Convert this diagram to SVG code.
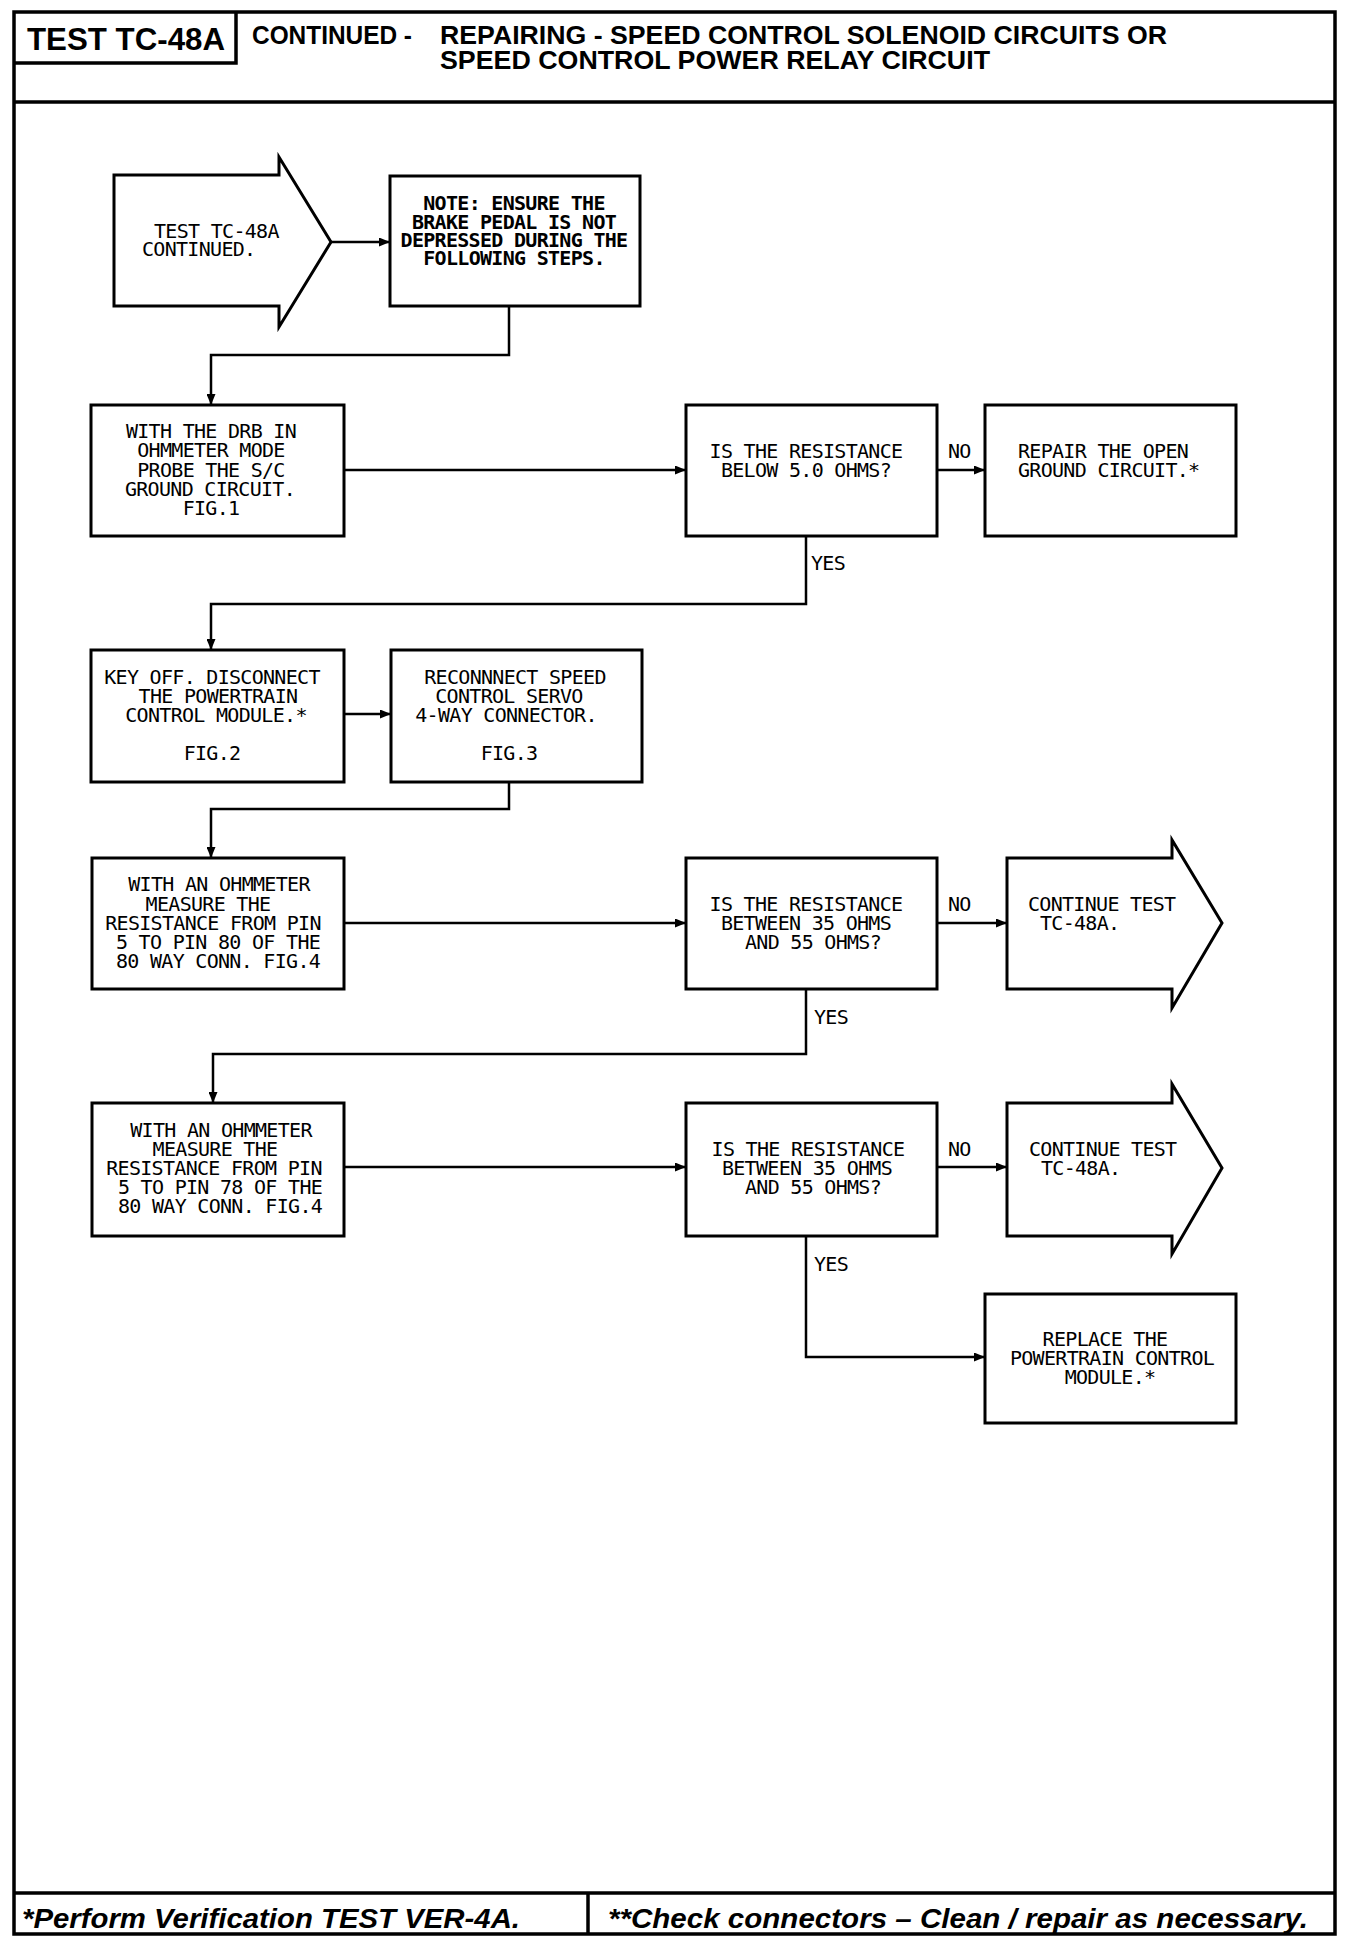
<svg xmlns="http://www.w3.org/2000/svg" width="1360" height="1952" viewBox="0 0 1360 1952">
<style>
.frame{fill:none;stroke:#000;stroke-width:3.5}
.box{fill:#fff;stroke:#000;stroke-width:3}
.conn{fill:none;stroke:#000;stroke-width:2.5}
.t{font-family:"DejaVu Sans Mono",monospace;font-size:20px;letter-spacing:-0.7px;fill:#000}
.m{text-anchor:middle}
.b{font-weight:bold}
.h{font-family:"Liberation Sans",Arial,sans-serif;font-weight:bold;fill:#000}
.f{font-family:"Liberation Sans",Arial,sans-serif;font-weight:bold;font-style:italic;font-size:28px;fill:#000}
</style>
<defs>
<marker id="ah" markerUnits="userSpaceOnUse" markerWidth="11" markerHeight="9" refX="11" refY="4.5" orient="auto">
<path d="M0,0 L11,4.5 L0,9 z" fill="#000"/>
</marker>
</defs>
<rect x="0" y="0" width="1360" height="1952" fill="#fff"/>
<g id="frame">
<rect class="frame" x="14" y="12" width="1321" height="1922"/>
<path class="frame" d="M236,12 V63 H14"/>
<line class="frame" x1="14" y1="102" x2="1335" y2="102"/>
<line class="frame" x1="14" y1="1893" x2="1335" y2="1893"/>
<line class="frame" x1="588" y1="1893" x2="588" y2="1934"/>
<text class="h" x="27" y="50" font-size="32" textLength="198" lengthAdjust="spacingAndGlyphs">TEST TC-48A</text>
<text class="h" x="252" y="44" font-size="25" textLength="160" lengthAdjust="spacingAndGlyphs">CONTINUED -</text>
<text class="h" x="440" y="44" font-size="25" textLength="727" lengthAdjust="spacingAndGlyphs">REPAIRING - SPEED CONTROL SOLENOID CIRCUITS OR</text>
<text class="h" x="440" y="69" font-size="25" textLength="550" lengthAdjust="spacingAndGlyphs">SPEED CONTROL POWER RELAY CIRCUIT</text>
<text class="f" x="22" y="1928" textLength="498" lengthAdjust="spacingAndGlyphs">*Perform Verification TEST VER-4A.</text>
<text class="f" x="608" y="1928" textLength="700" lengthAdjust="spacingAndGlyphs">**Check connectors – Clean / repair as necessary.</text>
</g>
<g id="connectors">
<line class="conn" x1="331" y1="242" x2="390" y2="242" marker-end="url(#ah)"/>
<path class="conn" d="M509,306 V355 H211 V405" marker-end="url(#ah)"/>
<line class="conn" x1="344" y1="470" x2="686" y2="470" marker-end="url(#ah)"/>
<line class="conn" x1="937" y1="470" x2="985" y2="470" marker-end="url(#ah)"/>
<path class="conn" d="M806,536 V604 H211 V650" marker-end="url(#ah)"/>
<line class="conn" x1="344" y1="714" x2="391" y2="714" marker-end="url(#ah)"/>
<path class="conn" d="M509,782 V809 H211 V858" marker-end="url(#ah)"/>
<line class="conn" x1="344" y1="923" x2="686" y2="923" marker-end="url(#ah)"/>
<line class="conn" x1="937" y1="923" x2="1007" y2="923" marker-end="url(#ah)"/>
<path class="conn" d="M806,989 V1054 H213 V1103" marker-end="url(#ah)"/>
<line class="conn" x1="344" y1="1167" x2="686" y2="1167" marker-end="url(#ah)"/>
<line class="conn" x1="937" y1="1167" x2="1007" y2="1167" marker-end="url(#ah)"/>
<path class="conn" d="M806,1236 V1357 H985" marker-end="url(#ah)"/>
<text class="t" x="948" y="458">NO</text>
<text class="t" x="811" y="570">YES</text>
<text class="t" x="948" y="911">NO</text>
<text class="t" x="814" y="1024">YES</text>
<text class="t" x="948" y="1156">NO</text>
<text class="t" x="814" y="1271">YES</text>
</g>
<g id="start">
<polygon class="box" points="114,175 279,175 279,157 331,242 279,327 279,306 114,306"/>
<text class="t" x="154" y="238">TEST TC-48A</text>
<text class="t" x="142" y="256">CONTINUED.</text>
</g>
<g id="note">
<rect class="box" x="390" y="176" width="250" height="130"/>
<text class="t m b" x="514" y="210">NOTE: ENSURE THE</text>
<text class="t m b" x="514" y="229">BRAKE PEDAL IS NOT</text>
<text class="t m b" x="514" y="247">DEPRESSED DURING THE</text>
<text class="t m b" x="514" y="265">FOLLOWING STEPS.</text>
</g>
<g id="probe-ground">
<rect class="box" x="91" y="405" width="253" height="131"/>
<text class="t m" x="211" y="438">WITH THE DRB IN</text>
<text class="t m" x="211" y="457">OHMMETER MODE</text>
<text class="t m" x="211" y="477">PROBE THE S/C</text>
<text class="t m" x="210" y="496">GROUND CIRCUIT.</text>
<text class="t m" x="211" y="515">FIG.1</text>
</g>
<g id="decision-1">
<rect class="box" x="686" y="405" width="251" height="131"/>
<text class="t m" x="806" y="458">IS THE RESISTANCE</text>
<text class="t m" x="806" y="477">BELOW 5.0 OHMS?</text>
</g>
<g id="repair-ground">
<rect class="box" x="985" y="405" width="251" height="131"/>
<text class="t" x="1018" y="458">REPAIR THE OPEN</text>
<text class="t" x="1018" y="477">GROUND CIRCUIT.*</text>
</g>
<g id="key-off">
<rect class="box" x="91" y="650" width="253" height="132"/>
<text class="t m" x="212" y="684">KEY OFF. DISCONNECT</text>
<text class="t m" x="218" y="703">THE POWERTRAIN</text>
<text class="t m" x="216" y="722">CONTROL MODULE.*</text>
<text class="t m" x="212" y="760">FIG.2</text>
</g>
<g id="reconnect">
<rect class="box" x="391" y="650" width="251" height="132"/>
<text class="t m" x="515" y="684">RECONNNECT SPEED</text>
<text class="t m" x="509" y="703">CONTROL SERVO</text>
<text class="t m" x="506" y="722">4-WAY CONNECTOR.</text>
<text class="t m" x="509" y="760">FIG.3</text>
</g>
<g id="measure-80">
<rect class="box" x="92" y="858" width="252" height="131"/>
<text class="t m" x="219" y="891">WITH AN OHMMETER</text>
<text class="t m" x="208" y="911">MEASURE THE</text>
<text class="t m" x="213" y="930">RESISTANCE FROM PIN</text>
<text class="t m" x="218" y="949">5 TO PIN 80 OF THE</text>
<text class="t m" x="218" y="968">80 WAY CONN. FIG.4</text>
</g>
<g id="decision-2">
<rect class="box" x="686" y="858" width="251" height="131"/>
<text class="t m" x="806" y="911">IS THE RESISTANCE</text>
<text class="t m" x="806" y="930">BETWEEN 35 OHMS</text>
<text class="t m" x="813" y="949">AND 55 OHMS?</text>
</g>
<g id="continue-1">
<polygon class="box" points="1007,858 1172,858 1172,840 1222,923 1172,1008 1172,989 1007,989"/>
<text class="t" x="1028" y="911">CONTINUE TEST</text>
<text class="t" x="1040" y="930">TC-48A.</text>
</g>
<g id="measure-78">
<rect class="box" x="92" y="1103" width="252" height="133"/>
<text class="t m" x="221" y="1137">WITH AN OHMMETER</text>
<text class="t m" x="215" y="1156">MEASURE THE</text>
<text class="t m" x="214" y="1175">RESISTANCE FROM PIN</text>
<text class="t m" x="220" y="1194">5 TO PIN 78 OF THE</text>
<text class="t m" x="220" y="1213">80 WAY CONN. FIG.4</text>
</g>
<g id="decision-3">
<rect class="box" x="686" y="1103" width="251" height="133"/>
<text class="t m" x="808" y="1156">IS THE RESISTANCE</text>
<text class="t m" x="807" y="1175">BETWEEN 35 OHMS</text>
<text class="t m" x="813" y="1194">AND 55 OHMS?</text>
</g>
<g id="continue-2">
<polygon class="box" points="1007,1103 1172,1103 1172,1084 1222,1168 1172,1254 1172,1236 1007,1236"/>
<text class="t" x="1029" y="1156">CONTINUE TEST</text>
<text class="t" x="1041" y="1175">TC-48A.</text>
</g>
<g id="replace-pcm">
<rect class="box" x="985" y="1294" width="251" height="129"/>
<text class="t m" x="1105" y="1346">REPLACE THE</text>
<text class="t m" x="1112" y="1365">POWERTRAIN CONTROL</text>
<text class="t m" x="1110" y="1384">MODULE.*</text>
</g>
</svg>
